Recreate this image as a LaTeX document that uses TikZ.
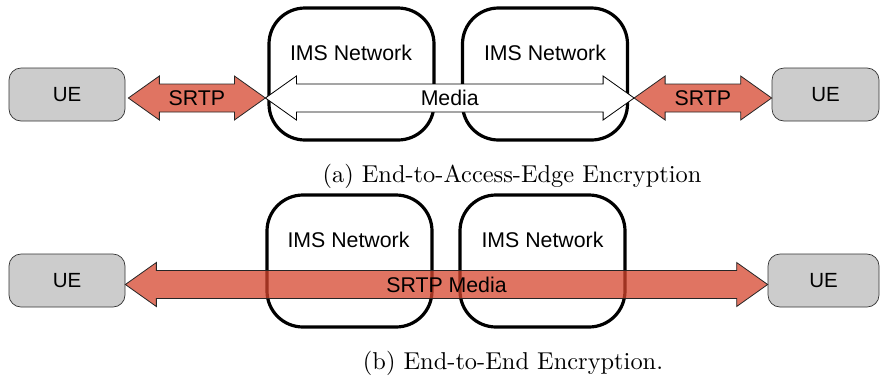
\documentclass[tikz,border=0pt]{standalone}
\usepackage{fontspec}
\setmainfont{Liberation Sans}
\newfontfamily\capfont{lmroman10-regular.otf}
\usetikzlibrary{calc}
\definecolor{srtpred}{RGB}{224,116,98}
\definecolor{srtpdeep}{RGB}{213,69,45}
\definecolor{uegray}{RGB}{204,204,204}
\newcommand{\fatarrow}[4]{%
  \path[#3] let \p1=(#1), \p2=(#2) in
    (\x1,\y1) -- (\x1+31pt,\y1+22pt) -- (\x1+31pt,\y1+14pt) --
    (\x2-31pt,\y2+14pt) -- (\x2-31pt,\y2+22pt) -- (\x2,\y2) --
    (\x2-31pt,\y2-22pt) -- (\x2-31pt,\y2-14pt) -- (\x1+31pt,\y1-14pt) --
    (\x1+31pt,\y1-22pt) -- cycle;%
}
\begin{document}
\begin{tikzpicture}[x=1pt,y=-1pt,
  uebox/.style={draw=black!80, line width=0.7pt, fill=uegray, rounded corners=12pt,
    minimum width=116pt, minimum height=53pt, inner sep=0pt, font=\fontsize{20.5}{24}\selectfont},
  imsbox/.style={draw=black, line width=3.2pt, rounded corners=36pt,
    minimum width=165pt, minimum height=132pt, inner sep=0pt},
  lbl/.style={font=\fontsize{21.3}{24}\selectfont, inner sep=0pt},
  srtparrow/.style={draw=black!85, line width=0.8pt, fill=srtpred},
  mediaarrow/.style={draw=black, line width=0.8pt, fill=white},
  e2earrow/.style={draw=black!85, line width=0.8pt, fill=srtpdeep, fill opacity=0.75},
  captext/.style={font=\capfont\fontsize{24.4}{28}\selectfont, inner sep=0pt, anchor=base}
]
\useasboundingbox (0,0) rectangle (880,376);
% ---- (a)
\node[uebox] (ueA) at (67,94.5) {UE};
\node[uebox, minimum width=107pt] (ueB) at (825.5,94.5) {UE};
\node[imsbox] (imsA1) at (351.5,74) {};
\node[imsbox] (imsA2) at (545,74) {};
\node[lbl] (tA1) at (351,53) {IMS Network};
\node[lbl] (tA2) at (545,53) {IMS Network};
\coordinate (a1) at ($(ueA.east)+(3,3.5)$);
\coordinate (a2) at ($(imsA1.west)+(-2,24)$);
\coordinate (a3) at ($(imsA2.east)+(5,24)$);
\coordinate (a4) at ($(ueB.west)+(0,3.5)$);
\fatarrow{a1}{a2}{srtparrow}{}
\fatarrow{a2}{a3}{mediaarrow}{}
\fatarrow{a3}{a4}{srtparrow}{}
\node[lbl] (sA1) at ($(a1)!0.5!(a2)$) {SRTP};
\node[lbl] (mA) at ($(a2)!0.5!(a3)$) {Media};
\node[lbl] (sA2) at ($(a3)!0.5!(a4)$) {SRTP};
\node[captext] (capA) at (512,182) {(a) End-to-Access-Edge Encryption};
% ---- (b)
\node[uebox] (ueC) at (67,280.5) {UE};
\node[uebox, minimum width=111pt] (ueD) at (823.5,280.5) {UE};
\node[imsbox] (imsB1) at (349.5,261) {};
\node[imsbox] (imsB2) at (542.5,261) {};
\node[lbl] (tB1) at (348.5,240) {IMS Network};
\node[lbl] (tB2) at (542.5,240) {IMS Network};
\coordinate (b1) at ($(ueC.east)+(0,4)$);
\coordinate (b2) at ($(ueD.west)+(0,4)$);
\fatarrow{b1}{b2}{e2earrow}{}
\node[lbl] (sB) at ($(b1)!0.5!(b2)$) {SRTP Media};
\node[captext] (capB) at (513,369) {(b) End-to-End Encryption.};
\end{tikzpicture}
\end{document}
